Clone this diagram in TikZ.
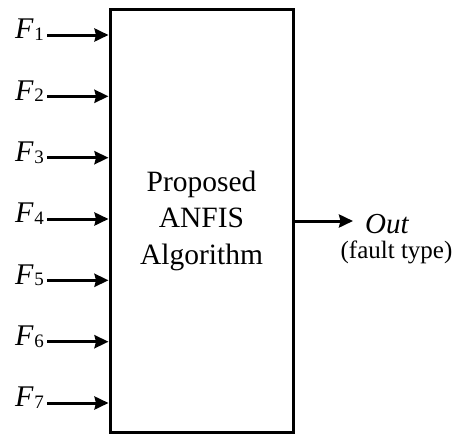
\documentclass[tikz,border=0pt]{standalone}
\usepackage{fontspec}
\setmainfont{Liberation Serif}
\usetikzlibrary{arrows.meta}
\newcommand{\flabel}[1]{\fontsize{30}{30}\selectfont\textit{F}\kern0.5pt{\fontsize{19}{19}\selectfont\raisebox{-1.5pt}{#1}}}
\begin{document}
\begin{tikzpicture}[x=1pt,y=-1pt,
  wire/.style={line width=3pt,-{Stealth[length=14pt,width=13pt,inset=1.5pt]}},
  inlabel/.style={anchor=base east,inner sep=0pt},
  blockbox/.style={draw,line width=3pt,minimum width=183pt,minimum height=423pt,
    align=center,inner sep=0pt,font=\fontsize{29.5}{36.5}\selectfont}]
\useasboundingbox (0,0) rectangle (455,434);

% central processing block
\node[blockbox] (blk) at (201.5,220.5) {Proposed\\ANFIS\\Algorithm};

% seven input features
\foreach \i/\y in {1/35,2/96.3,3/157.7,4/219,5/280.3,6/341.7,7/403}{
  \node[inlabel] (f\i) at (44,\y+3.8) {\flabel{\i}};
  \coordinate (s\i) at (47,\y);
  \draw[wire] (s\i) -- (s\i -| blk.west);
}

% output
\coordinate (o) at (blk.east |- 0,221);
\coordinate (oend) at (353,221);
\draw[wire] (o) -- (oend);
\node[anchor=base west,inner sep=0pt,text depth=0pt,font=\fontsize{29}{29}\selectfont\itshape] (out) at (365,233) {Out};
\node[anchor=base,inner sep=0pt,font=\fontsize{25}{25}\selectfont] (ftype) at (396.5,258) {(fault type)};
\end{tikzpicture}
\end{document}
